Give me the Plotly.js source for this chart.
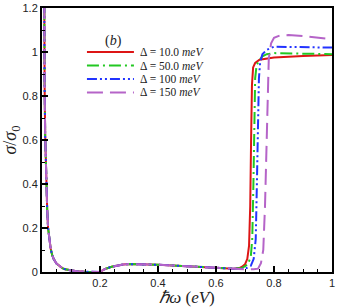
<!DOCTYPE html>
<html><head><meta charset="utf-8">
<script src="https://cdn.plot.ly/plotly-3.0.1.min.js"></script>
<style>body{margin:0;background:#fff}#chart{width:341px;height:307px}</style>
</head><body><div id="chart"></div>
<script>
// Series labels
const seriesNames = ['Δ = 10.0 <i>meV</i>', 'Δ = 50.0 <i>meV</i>', 'Δ = 100 <i>meV</i>', 'Δ = 150 <i>meV</i>'];
// Shared low-energy part (all curves overlap here)
const lowX = [0.003, 0.005, 0.007, 0.009, 0.011, 0.013, 0.015, 0.018, 0.021, 0.025, 0.03, 0.035, 0.04, 0.05, 0.06, 0.07, 0.08, 0.1, 0.12, 0.15, 0.18, 0.2,
  0.21, 0.22, 0.24, 0.26, 0.28, 0.3, 0.33, 0.36, 0.4, 0.45, 0.5, 0.55, 0.6, 0.64, 0.66];
const lowY = [3.0, 1.9, 1.2, 0.85, 0.62, 0.47, 0.38, 0.28, 0.2, 0.15, 0.105, 0.078, 0.06, 0.038, 0.026, 0.018, 0.012, 0.006, 0.003, 0.001, 0.0005, 0.0,
  0.008, 0.015, 0.024, 0.03, 0.034, 0.036, 0.036, 0.035, 0.033, 0.03, 0.026, 0.023, 0.02, 0.017, 0.015];
// Band-edge parts
const riseX1 = [0.68, 0.69, 0.7, 0.708, 0.714, 0.718, 0.721, 0.724, 0.728, 0.735, 0.75, 0.8, 0.9, 1.0];
const riseY1 = [0.018, 0.024, 0.035, 0.06, 0.12, 0.3, 0.6, 0.85, 0.93, 0.95, 0.965, 0.975, 0.982, 0.986];
const riseX2 = [0.69, 0.71, 0.72, 0.725, 0.729, 0.732, 0.735, 0.74, 0.75, 0.76, 0.775, 0.8, 0.9, 1.0];
const riseY2 = [0.018, 0.035, 0.07, 0.15, 0.4, 0.7, 0.88, 0.94, 0.965, 0.98, 0.99, 0.995, 0.993, 0.99];
const riseX3 = [0.7, 0.72, 0.73, 0.737, 0.741, 0.745, 0.748, 0.752, 0.76, 0.775, 0.8, 0.85, 0.9, 1.0];
const riseY3 = [0.014, 0.028, 0.06, 0.15, 0.4, 0.7, 0.88, 0.95, 0.99, 1.01, 1.024, 1.023, 1.022, 1.02];
const riseX4 = [0.7, 0.73, 0.745, 0.755, 0.763, 0.769, 0.774, 0.778, 0.782, 0.79, 0.8, 0.82, 0.85, 0.9, 0.95, 1.0];
const riseY4 = [0.012, 0.012, 0.015, 0.04, 0.1, 0.3, 0.6, 0.85, 0.97, 1.04, 1.065, 1.075, 1.077, 1.072, 1.065, 1.058];

const colors = ['#dd1515', '#22c822', '#2233ff', '#b564c8'];
const dashes = ['solid', '12px,4px,2px,4px', '10px,3px,2px,3px,2px,3px', '16px,7px'];
const rises = [[riseX1, riseY1], [riseX2, riseY2], [riseX3, riseY3], [riseX4, riseY4]];

const traces = rises.map((r, i) => ({
  x: lowX.concat(r[0]), y: lowY.concat(r[1]), type: 'scatter', mode: 'lines',
  name: seriesNames[i], showlegend: false,
  line: {color: colors[i], width: 2, dash: dashes[i]}
}));

// Hand-made compact legend (layout elements)
const legY = [0.833, 0.782, 0.731, 0.680];
const shapes = legY.map((y, i) => ({
  type: 'line', xref: 'paper', yref: 'paper', x0: 0.155, x1: 0.317, y0: y, y1: y,
  line: {color: colors[i], width: 2, dash: dashes[i]}
}));
const annotations = legY.map((y, i) => ({
  xref: 'paper', yref: 'paper', x: 0.332, y: y, xanchor: 'left', yanchor: 'middle',
  text: seriesNames[i], showarrow: false,
  font: {family: 'Liberation Serif, serif', size: 11.5, color: '#222'}
}));
annotations.push({xref: 'paper', yref: 'paper', x: 0.245, y: 0.875, xanchor: 'center', yanchor: 'middle',
  text: '(<i>b</i>)', showarrow: false, font: {family: 'Liberation Serif, serif', size: 14, color: '#222'}});

const layout = {
  width: 341, height: 307,
  margin: {l: 42, r: 9, t: 8, b: 35},
  paper_bgcolor: '#fff', plot_bgcolor: '#fff',
  showlegend: false,
  xaxis: {
    range: [0, 1], tickmode: 'array', tickvals: [0.2, 0.4, 0.6, 0.8, 1], ticktext: ['0.2', '0.4', '0.6', '0.8', '1'],
    ticks: 'inside', ticklen: 6, tickwidth: 2, tickcolor: '#000',
    minor: {tickmode: 'linear', tick0: 0, dtick: 0.05, ticks: 'inside', ticklen: 3, tickwidth: 1, tickcolor: '#000'},
    showline: true, linecolor: '#000', linewidth: 2, mirror: true, showgrid: false, zeroline: false,
    tickfont: {family: 'Liberation Sans, Arial, sans-serif', size: 11, color: '#222'},
    title: {text: '<i>ℏω</i> (<i>eV</i>)', font: {family: 'Liberation Serif, serif', size: 17, color: '#222'}, standoff: 6}
  },
  yaxis: {
    range: [0, 1.2], tickmode: 'linear', tick0: 0, dtick: 0.2,
    ticks: 'inside', ticklen: 6, tickwidth: 2, tickcolor: '#000',
    minor: {tickmode: 'linear', tick0: 0, dtick: 0.1, ticks: 'inside', ticklen: 3, tickwidth: 1, tickcolor: '#000'},
    showline: true, linecolor: '#000', linewidth: 2, mirror: true, showgrid: false, zeroline: false,
    tickfont: {family: 'Liberation Sans, Arial, sans-serif', size: 11, color: '#222'},
    title: {text: '<i>σ</i>/<i>σ</i><sub>0</sub>', font: {family: 'Liberation Serif, serif', size: 18, color: '#222'}, standoff: 2}
  },
  shapes: shapes, annotations: annotations
};
Plotly.newPlot('chart', traces, layout, {displayModeBar: false, staticPlot: true});
</script></body></html>
